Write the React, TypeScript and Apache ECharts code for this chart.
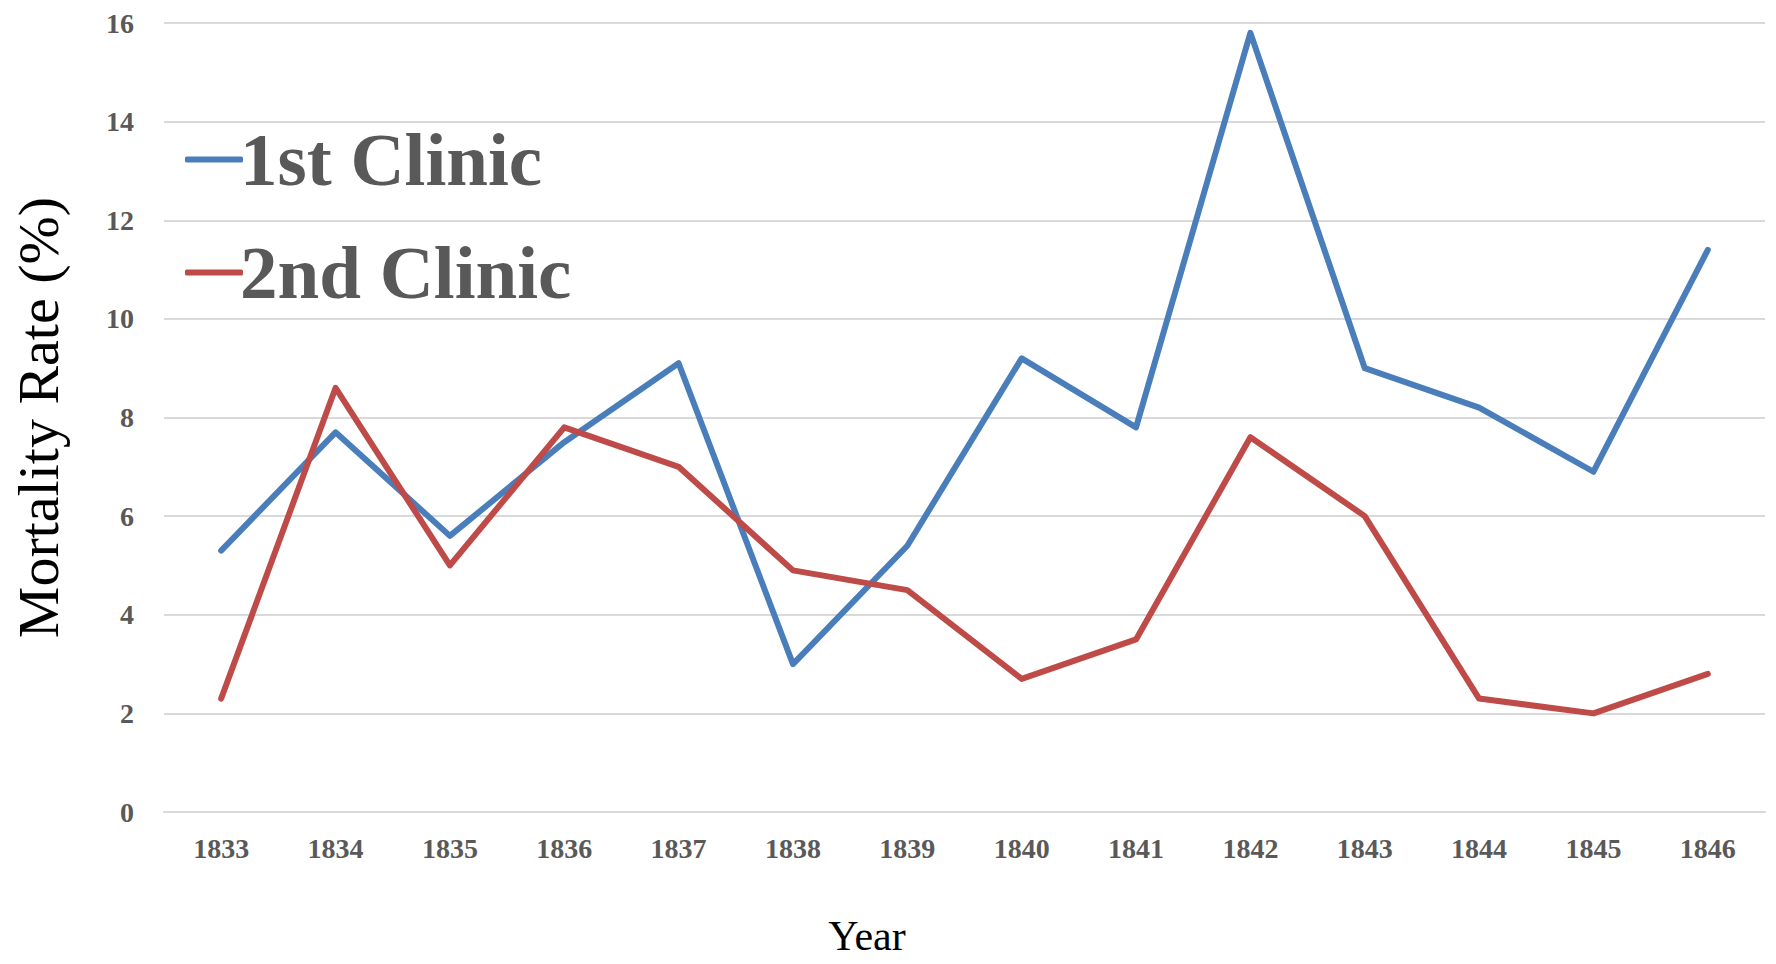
import React, { useEffect, useRef } from 'react';
import * as echarts from 'echarts';

const years = ['1833', '1834', '1835', '1836', '1837', '1838', '1839', '1840', '1841', '1842', '1843', '1844', '1845', '1846'];
const firstClinic = [5.3, 7.7, 5.6, 7.5, 9.1, 3.0, 5.4, 9.2, 7.8, 15.8, 9.0, 8.2, 6.9, 11.4];
const secondClinic = [2.3, 8.6, 5.0, 7.8, 7.0, 4.9, 4.5, 2.7, 3.5, 7.6, 6.0, 2.3, 2.0, 2.8];

const font = '"Liberation Serif", "Times New Roman", serif';
const gray = '#595959';

const App: React.FC = () => {
  const chartRef = useRef<HTMLDivElement>(null);

  useEffect(() => {
    if (!chartRef.current) return;
    const chart = echarts.init(chartRef.current, null, { renderer: 'svg' });
    const option: any = {
      animation: false,
      backgroundColor: '#fff',
      legend: {
        orient: 'vertical',
        left: 180,
        top: 117,
        itemGap: 38,
        itemWidth: 58,
        itemHeight: 6,
        icon: 'roundRect',
        textStyle: { fontFamily: font, fontSize: 75, fontWeight: 'bold', color: gray, padding: [0, 0, 0, -8] },
        data: ['1st Clinic', '2nd Clinic']
      },
      graphic: [
        {
          type: 'text',
          x: 867,
          y: 936,
          style: { text: 'Year', font: `42px ${font}`, fill: '#000', textAlign: 'center', textVerticalAlign: 'middle' }
        }
      ],
      grid: { left: 164, right: 11, top: 23, bottom: 152, outerBoundsMode: 'none' },
      xAxis: {
        type: 'category',
        data: years,
        boundaryGap: true,
        axisLine: { lineStyle: { color: '#d9d9d9', width: 2 } },
        axisTick: { show: false },
        axisLabel: { fontFamily: font, fontSize: 28, fontWeight: 'bold', color: gray, margin: 22 }
      },
      yAxis: {
        type: 'value',
        min: 0,
        max: 16,
        interval: 2,
        name: 'Mortality Rate (%)',
        nameLocation: 'middle',
        nameGap: 97,
        nameTextStyle: { fontFamily: font, fontSize: 58, color: '#000' },
        axisLine: { show: false },
        axisTick: { show: false },
        axisLabel: { fontFamily: font, fontSize: 28, fontWeight: 'bold', color: gray, margin: 30 },
        splitLine: { lineStyle: { color: '#d9d9d9', width: 2 } }
      },
      series: [
        {
          name: '1st Clinic',
          type: 'line',
          data: firstClinic,
          symbol: 'none',
          lineStyle: { width: 6, color: '#4a7ebb', cap: 'round', join: 'round' },
          itemStyle: { color: '#4a7ebb' }
        },
        {
          name: '2nd Clinic',
          type: 'line',
          data: secondClinic,
          symbol: 'none',
          lineStyle: { width: 6, color: '#be4b48', cap: 'round', join: 'round' },
          itemStyle: { color: '#be4b48' }
        }
      ]
    };
    chart.setOption(option);
    return () => chart.dispose();
  }, []);

  return (
    <div style={{ position: 'fixed', left: 0, top: 0, width: 1776, height: 964, background: '#fff' }}>
      <div ref={chartRef} style={{ width: 1776, height: 964 }} />
    </div>
  );
};

export default App;
